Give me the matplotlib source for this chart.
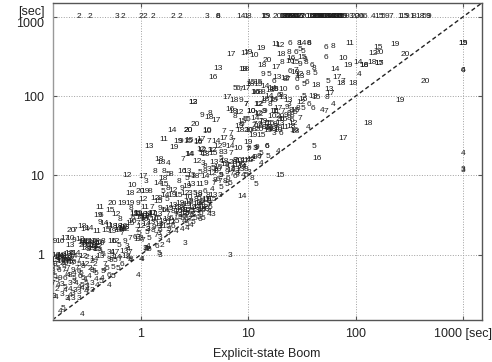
#!/usr/bin/env python3
# -*- coding: utf-8 -*-

import matplotlib
matplotlib.use("Agg")
import matplotlib.pyplot as plt
import numpy as np

plt.rcParams["font.family"] = ["Liberation Sans", "DejaVu Sans"]

# All times are log10(seconds). Each mark is drawn as its instance number.
LOW_X = [
    -.38, -.27, -.29, -.18, -.10, -.03, -.40, -.37, -.23, -.20,
    -.38, -.34, -.30, -.26, -.21, -.18, -.15, -.10, -.06, -.03,
    0, .04, .07, -.03, -.07, .07, -.55, -.52, -.48, -.65,
    -.62, -.41, -.32, -.27, -.18, -.10, -.03, 0, -.82, -.75,
    -.71, -.66, -.62, -.66, -.57, -.54, -.51, -.46, -.43, -.38,
    -.35, -.27, -.24, -.20, -.15, -.54, -.49, -.44, -.52, -.48,
    -.41, -.38, -.30, -.27, -.13, -.12, -.10, .04, .07, .05,
    -.35, -.27, -.24, -.79, -.75, -.72, -.69, -.66, -.63, -.60,
    -.80, -.77, -.74, -.70, -.67, -.64, -.58, -.54, -.50, -.63,
    -.58, -.54, -.46, -.43, -.48, -.44, -.82, -.77, -.82, -.72,
    -.68, -.63, -.58, -.80, -.75, -.71, -.66, -.62, -.57, -.52,
    -.62, -.82, -.77, -.71, -.66, -.60, -.55, -.51, -.46, -.41,
    -.37, -.35, -.30, -.26, -.21, -.30, -.78, -.71, -.63, -.61,
    -.46, -.51, -.55, -.81, -.79, -.69, -.68, -.63, -.58, -.73,
    -.75, -.55, -.03, 0, .01, -.09, -.10, .83, .05, .08,
    .15, .20, .18, .17, .41, .25, -.55, -.52, -.49, -.46,
    -.43, -.40, -.49, -.46, -.43, -.40, -.21, -.18, -.15, -.20,
    -.17, -.06, -.03, -.01, .04, .02, .07, -.75, -.72, -.69,
    -.74, -.67, -.77, -.71,
]
LOW_Y = [
    .60, .64, .56, .65, .65, .65, .49, .49, .50, .44,
    .40, .39, .37, .35, .33, .33, .32, .39, .50, .50,
    .48, .48, .48, .39, .46, .31, .36, .32, .33, .30,
    .30, .29, .30, .29, .27, .20, .19, .20, .17, .16,
    .20, .20, .18, .12, .19, .16, .17, .16, .17, .14,
    .16, .17, .16, .12, .16, .12, .12, .10, .08, .07,
    .06, .04, .03, .03, .10, .06, .02, .08, .10, .06,
    0, -.03, -.07, -.01, -.03, -.03, -.05, -.06, -.03, .01,
    -.07, -.07, -.09, -.08, .01, .01, -.06, -.03, -.04, -.11,
    -.13, -.15, -.09, -.13, -.17, -.22, -.15, -.17, -.22, -.20,
    -.17, -.20, -.22, -.28, -.30, -.30, -.26, -.30, -.28, -.32,
    -.24, -.37, -.39, -.41, -.37, -.37, -.39, -.37, -.37, -.39,
    -.34, -.22, -.26, -.28, -.18, -.39, -.44, -.46, -.49, -.45,
    -.45, -.47, -.43, -.53, -.54, -.55, -.57, -.56, -.55, -.68,
    -.72, -.76, -.27, -.06, -.06, -.06, -.08, -.01, .08, .06,
    .10, .12, -.01, .01, .14, .17, .15, .14, .15, .12,
    .14, .15, .06, .08, .06, .10, .35, .32, .34, .30,
    .36, .52, .52, .47, .46, .51, .51, -.05, -.07, 0,
    -.01, -.09, -.04, -.11,
]
LOW_N = [
    11, 20, 15, 19, 19, 9, 19, 6, 12, 8,
    9, 14, 11, 18, 13, 14, 12, 15, 15, 11,
    8, 12, 14, 7, 6, 3, 18, 14, 14, 20,
    7, 11, 15, 19, 7, 7, 12, 3, 19, 16,
    17, 10, 9, 13, 12, 18, 15, 14, 17, 10,
    8, 16, 12, 5, 9, 20, 6, 13, 18, 7,
    15, 9, 3, 4, 3, 4, 7, 3, 4, 8,
    5, 3, 5, 18, 16, 11, 13, 12, 14, 14,
    15, 9, 17, 19, 18, 5, 7, 12, 2, 7,
    5, 8, 2, 2, 2, 5, 6, 5, 8, 7,
    7, 9, 6, 5, 9, 6, 8, 5, 6, 4,
    4, 7, 4, 5, 3, 4, 5, 5, 3, 4,
    5, 5, 6, 5, 5, 4, 2, 4, 3, 3,
    3, 4, 4, 3, 4, 3, 4, 3, 3, 5,
    4, 4, 4, 4, 4, 8, 4, 3, 3, 5,
    6, 2, 3, 5, 3, 4, 14, 18, 13, 19,
    15, 16, 9, 19, 8, 12, 18, 14, 13, 19,
    16, 12, 19, 15, 14, 18, 9, 13, 14, 19,
    18, 15, 16, 20,
]

MID_X = [
    .21, .08, .35, .44, .53, .56, .63, .31, .44, .29,
    .56, .64, .60, .17, .19, .25, .39, .45, .52, .58,
    .63, -.13, .02, .05, .13, .21, .25, .28, .38, .43,
    .47, .55, .60, .21, .16, .22, .35, .43, .50, .60,
    -.08, -.01, .04, .08, -.10, .21, .25, .30, .38, .43,
    .47, .55, .61, .18, .22, .29, .35, .41, .46, .50,
    .55, .60, .13, .16, .24, .02, -.09, .04, .10, .18,
    .30, .36, .43, .47, .52, .57, .63, .35, .39, .44,
    .49, .53, .58, .21, .07, .11, .16, .25, .33, .36,
    .41, .46, .50, .58, .64, .54, .62, .64, .67, .54,
    .48, .43, .42, .33, .36, .28, .17, .07, -.03, .25,
    .17, .25, .47, .38, .33, .43, .18, .62, .54, .74,
    .67, .72, .84, .97, .95, .80, .87, .93, .98, 1.09,
    1.15, .49, .49, .57, .64, .63, .70, .83, .86, .91,
    1.03, 1.09, 1.15, 1.26, .88, .94, .97, 1.00, .94, 1.06,
    1.11, 1.20, 1.25, .91, .92, 1.00, 1.05, 1.19, 1.22, 1.28,
    .51, .44, .62, .62, .77, .84, 1.04, 1.12, .84, .86,
    .37, .45, .53, .75, .78, .70, 1.00, .72, .77, .83,
    .91, 1.00, 1.06, 1.08, 1.17, .57, .66, .58, .67, .75,
    .78, .46, .84, .75, .75, .88, .91, .95, 1.00, 1.03,
    1.06, 1.11, .81, .86, .94, .60, .67, .70, .75, .80,
    .85, .90, .95, .72, .78, .88, .92, .98, .68, .66,
    .75, .80, 1.88, 2.12, 1.61, 1.64, 1.30, 1.03, 1.07, 3.00,
    3.00, 3.00, 1.17, 1.28, 1.56, 1.43, 1.44, 1.30, 1.24, 1.28,
    1.19, 1.15, 1.10, 1.05, 1.01, 1.18, 1.12, 1.30, 1.41, 1.18,
    1.12, 1.07, 1.01, 1.03, 1.05, .98, 1.10, 1.12, 1.01, .98,
    .94,
]
MID_Y = [
    1.45, 1.36, 1.43, 1.43, 1.42, 1.45, 1.43, 1.35, 1.56, 1.57,
    1.33, 1.32, 1.26, 1.20, 1.16, 1.15, 1.20, 1.26, 1.17, 1.15,
    1.07, 1.00, .98, .92, 1.05, 1.05, 1.01, 1.01, 1.05, 1.05,
    1.00, 1.03, 1.05, .96, .90, .88, .92, .96, .98, .98,
    .87, .79, .79, .79, .77, .79, .83, .81, .83, .86,
    .88, .88, .90, .71, .75, .75, .75, .77, .77, .77,
    .77, .79, .71, .67, .69, .69, .58, .60, .60, .58,
    .62, .65, .63, .67, .63, .67, .67, .54, .56, .56,
    .54, .56, .56, .56, .50, .52, .50, .50, .48, .49,
    .48, .49, .46, .46, .50, .64, .57, .54, .51, .47,
    .50, .52, .46, .50, .47, .46, .35, .31, .22, .35,
    .27, .27, .37, .31, .29, .33, .21, .69, .71, .75,
    2.23, 2.35, 2.53, 2.54, 2.34, 1.98, 1.94, 1.94, 1.90, 1.90,
    1.93, 1.92, 1.92, 1.75, 1.78, 1.73, 1.69, 1.83, 1.80, 1.79,
    1.80, 1.78, 1.80, 1.80, 1.74, 1.68, 1.71, 1.70, 1.64, 1.64,
    1.64, 1.66, 1.64, 1.62, 1.57, 1.56, 1.58, 1.59, 1.58, 1.59,
    1.64, 1.56, 1.56, 1.55, 1.55, 1.53, 1.50, 1.50, 1.47, 1.43,
    1.43, 1.44, 1.43, 1.47, 1.46, 1.43, 1.41, 1.37, 1.38, 1.37,
    1.34, 1.33, 1.34, 1.35, 1.36, 1.32, 1.32, 1.27, 1.27, 1.29,
    1.29, 1.26, 1.28, 1.21, 1.17, 1.19, 1.19, 1.19, 1.19, 1.20,
    1.22, 1.23, 1.13, 1.09, 1.11, 1.11, 1.09, 1.05, 1.00, 1.10,
    1.02, 1.05, 1.00, .95, .92, .98, 1.08, 1.08, .90, .82,
    .85, .88, 1.47, 1.66, 1.37, 1.21, 1.00, .96, .89, 1.28,
    1.07, 1.06, 1.37, 1.30, 1.60, 1.57, 1.55, 1.53, 1.53, 1.57,
    1.60, 1.61, 1.62, 1.63, 1.57, 1.57, 1.68, 1.70, 1.69, 1.24,
    1.28, 1.34, 1.34, 1.19, 1.22, 1.18, 1.24, 1.15, 1.03, 1.00,
    .73,
]
MID_N = [
    11, 13, 19, 15, 16, 17, 7, 19, 20, 14,
    12, 3, 13, 18, 18, 4, 7, 14, 12, 3,
    3, 12, 17, 3, 8, 8, 5, 8, 16, 13,
    13, 5, 8, 18, 14, 15, 8, 5, 18, 14,
    10, 20, 19, 8, 18, 5, 8, 12, 9, 19,
    13, 11, 9, 8, 14, 19, 15, 12, 3, 5,
    8, 6, 12, 15, 5, 12, 8, 11, 7, 9,
    13, 19, 15, 8, 14, 5, 3, 16, 18, 12,
    5, 3, 6, 6, 14, 11, 13, 7, 7, 3,
    5, 7, 5, 5, 4, 3, 3, 4, 3, 5,
    7, 5, 5, 7, 5, 6, 3, 3, 3, 5,
    3, 3, 4, 4, 4, 4, 3, 3, 5, 3,
    16, 13, 17, 17, 18, 17, 18, 9, 7, 12,
    8, 13, 12, 9, 8, 18, 17, 16, 18, 12,
    10, 12, 9, 11, 8, 15, 5, 5, 6, 7,
    9, 15, 8, 19, 18, 20, 8, 10, 18, 10,
    20, 20, 10, 10, 7, 7, 19, 15, 3, 7,
    9, 15, 16, 1, 7, 14, 19, 12, 9, 14,
    10, 7, 3, 9, 6, 12, 12, 13, 15, 8,
    3, 14, 7, 5, 4, 8, 20, 1, 15, 12,
    9, 7, 7, 8, 14, 8, 5, 8, 5, 9,
    7, 7, 4, 6, 8, 6, 13, 8, 7, 4,
    5, 5, 17, 18, 5, 16, 15, 8, 5, 4,
    3, 3, 6, 4, 4, 16, 18, 6, 3, 10,
    20, 8, 16, 7, 10, 19, 7, 20, 6, 5,
    5, 9, 9, 7, 4, 7, 8, 4, 3, 5,
    14,
]

HIGH_X = [
    1.26, 1.30, 1.39, 1.47, 1.50, 1.57, 1.57, 1.72, 1.79, 1.95,
    1.00, 1.05, 1.12, 1.31, 1.38, 1.44, 1.48, 1.51, 1.40, 1.50,
    1.72, 1.88, 1.18, 1.13, 1.26, 1.31, 1.39, 1.44, 1.48, 1.53,
    1.54, 1.59, 1.61, 1.93, 1.81, 2.03, 1.14, 1.19, .97, 1.27,
    1.39, 1.44, 1.47, 1.48, 1.56, 1.62, 1.34, 1.37, 1.45, 1.02,
    1.09, .90, .93, .88, .98, 1.06, 1.11, 1.19, 1.23, 1.20,
    3.00, 3.00, 3.00, 3.00, 2.65, 2.41, 2.46, 2.37, 2.21, 2.16,
    2.22, 2.15, 2.22, 2.22, 2.02, 2.08, 2.08, 1.83, 1.88, 1.86,
    1.74, 1.98, 1.75, 1.76, 1.73, 1.79, 1.72, 1.69, 1.60, 1.57,
    1.60, 1.63, 1.52, 1.51, 1.49, 1.51, 1.46, 1.44, 1.40, 1.24,
    1.32, 1.16, 1.10, 1.03, .98, 1.10, 1.16, 1.24, 1.32, 1.37,
    1.38, 1.07, 1.14, 1.22, 1.24, 1.26, 1.29, 1.30, 1.32, 1.45,
    1.52, 1.55, 1.63, 1.09, 1.03, 1.35, 1.38, 1.41, 1.44, 1.30,
]
HIGH_Y = [
    2.65, 2.64, 2.66, 2.67, 2.67, 2.66, 2.66, 2.62, 2.63, 2.66,
    2.55, 2.51, 2.60, 2.53, 2.55, 2.55, 2.59, 2.56, 2.48, 2.49,
    2.49, 2.47, 2.45, 2.39, 2.36, 2.43, 2.44, 2.42, 2.40, 2.46,
    2.42, 2.39, 2.35, 2.39, 2.34, 2.27, 2.27, 2.27, 2.34, 2.24,
    2.31, 2.33, 2.27, 2.25, 2.28, 2.29, 2.21, 2.21, 2.21, 2.15,
    2.15, 2.10, 2.08, 2.10, 2.10, 2.05, 2.05, 1.99, 1.95, 2.07,
    2.66, 2.67, 2.33, 2.33, 2.18, 1.95, 2.53, 2.65, 2.62, 2.54,
    2.55, 2.43, 2.41, 2.41, 2.42, 2.39, 2.39, 2.23, 2.19, 2.16,
    2.18, 2.16, 2.09, 2.03, 1.98, 1.89, 1.81, 1.82, 1.85, 1.89,
    2.00, 1.98, 2.00, 1.96, 1.92, 1.85, 1.85, 1.82, 1.82, 1.81,
    1.80, 1.80, 1.77, 1.80, 1.89, 1.90, 1.96, 1.96, 1.98, 1.95,
    1.90, 2.04, 2.05, 2.10, 2.09, 2.08, 2.01, 2.01, 2.08, 2.10,
    2.15, 2.17, 2.14, 2.17, 2.17, 1.76, 1.78, 1.75, 1.79, 1.74,
]
HIGH_N = [
    11, 12, 6, 8, 14, 8, 6, 6, 8, 11,
    19, 10, 19, 18, 8, 6, 5, 5, 16, 15,
    6, 10, 20, 18, 17, 8, 10, 15, 9, 9,
    8, 6, 8, 19, 14, 4, 9, 5, 18, 13,
    6, 7, 12, 13, 8, 5, 8, 7, 6, 18,
    15, 6, 7, 5, 17, 16, 8, 14, 15, 18,
    19, 15, 4, 6, 20, 19, 20, 19, 15, 12,
    20, 18, 17, 15, 14, 16, 18, 17, 7, 18,
    5, 18, 13, 17, 8, 4, 7, 4, 6, 6,
    13, 15, 5, 16, 12, 5, 8, 15, 8, 11,
    7, 9, 12, 10, 7, 12, 18, 14, 13, 13,
    3, 16, 8, 14, 15, 8, 6, 8, 10, 6,
    5, 6, 18, 15, 15, 9, 8, 8, 5, 20,
]

# Tightly packed clumps along the diagonal band
BAND_X = [
    .36, .39, .42, .45, .48, .51, .54, .57, .60, .63,
    .38, .41, .44, .47, .50, .53, .56, .59, .62, .66,
    .40, .43, .46, .49, .52, .55, .58, .61, .64, .67,
    .66, .69, .72, .75, .78, .81, .84, .87, .90, .93,
    .68, .71, .74, .77, .80, .83, .86, .89, .92, .96,
    -.08, -.04, 0, .03, .06, .09, .12, .15, .18, .21,
    -.06, -.02, .02, .05, .08, .11, .14, .17, .20, .24,
    .26, .28, .30, .32, .10, .12, .22, .26, .30, .34,
    -.80, -.76, -.72, -.68, -.64, -.60, -.56, -.52, -.48, -.44,
    -.78, -.74, -.70, -.66, -.62, -.58, -.54, -.50, -.46, -.42,
    -.38, -.34, -.30, -.26, -.22, -.18, -.14, -.36, -.32, -.28,
    -.24, -.20, -.16, -.12, -.74, -.66, -.58, -.50, -.42, -.34,
    1.06, 1.14, 1.22, 1.30, 1.38, 1.10, 1.18, 1.26, 1.34, 1.42,
    1.28, 1.36, 1.20, 1.32, 1.40, 1.48, 1.16, 1.24, 1.34, 1.44,
]
BAND_Y = [
    .58, .62, .55, .66, .60, .70, .64, .57, .68, .62,
    .46, .52, .72, .48, .56, .74, .52, .60, .74, .70,
    .42, .38, .44, .40, .60, .44, .62, .70, .60, .74,
    1.02, .94, 1.10, 1.00, 1.14, .96, 1.06, 1.12, 1.00, 1.14,
    1.16, 1.08, .92, 1.18, 1.04, .90, 1.16, 1.02, 1.18, 1.10,
    .42, .30, .36, .44, .28, .40, .34, .46, .30, .42,
    .22, .26, .18, .38, .20, .30, .24, .38, .36, .44,
    .32, .40, .36, .42, .52, .44, .56, .58, .54, .60,
    -.12, -.20, -.14, -.26, -.10, -.18, -.24, -.12, -.28, -.06,
    -.33, -.38, -.24, -.44, -.34, -.42, -.30, -.40, -.20, -.32,
    -.02, -.12, -.06, -.16, -.04, -.12, -.02, -.30, -.18, -.08,
    .02, -.06, .04, -.04, -.50, -.52, -.48, -.44, -.24, -.20,
    1.72, 1.68, 1.74, 1.66, 1.72, 1.58, 1.66, 1.62, 1.60, 1.66,
    1.84, 1.86, 1.90, 1.70, 1.62, 1.72, 2.12, 2.18, 2.22, 2.30,
]
BAND_N = [
    13, 9, 15, 12, 19, 8, 14, 16, 11, 7,
    5, 18, 10, 7, 13, 19, 6, 12, 8, 15,
    4, 5, 7, 5, 14, 6, 9, 17, 5, 13,
    12, 8, 15, 9, 19, 6, 14, 11, 7, 16,
    13, 10, 7, 18, 9, 5, 20, 8, 12, 7,
    10, 7, 12, 16, 5, 13, 9, 15, 6, 19,
    6, 5, 7, 14, 5, 8, 7, 13, 11, 18,
    9, 12, 6, 15, 17, 10, 14, 19, 8, 13,
    9, 6, 8, 4, 10, 7, 5, 12, 4, 14,
    5, 3, 7, 4, 3, 4, 5, 3, 8, 4,
    13, 7, 9, 5, 14, 6, 12, 4, 5, 9,
    17, 7, 13, 8, 3, 4, 3, 4, 5, 4,
    14, 19, 10, 13, 8, 20, 15, 9, 11, 12,
    17, 9, 8, 16, 18, 7, 14, 6, 12, 10,
]

# Runs that hit the 1000 s limit on the vertical axis
LIMIT_X = [
    -.58, -.48, -.22, -.17, 0, .04, .11, .30, .36, .62,
    .72, .72, .93, .98, 1.01, 1.16, 1.17, 1.27, 1.32, 1.34,
    1.36, 1.38, 1.40, 1.42, 1.44, 1.46, 1.48, 1.50, 1.53, 1.58,
    1.60, 1.62, 1.64, 1.66, 1.68, 1.70, 1.72, 1.74, 1.76, 1.78,
    1.80, 1.82, 1.84, 1.86, 1.88, 1.92, 1.96, 2.00, 2.03, 2.06,
    2.09, 2.16, 2.22, 2.26, 2.29, 2.33, 2.41, 2.45, 2.48, 2.52,
    2.54, 2.60, 2.64, 2.67, 2.68, 1.33, 1.35, 1.37, 1.39, 1.41,
    1.43, 1.45, 1.47, 1.59, 1.61, 1.63, 1.65, 1.67, 1.69, 1.71,
    1.73, 1.75, 1.77, 1.79, 1.81, 1.83, 1.85, 1.87,
]
LIMIT_N = [
    2, 2, 3, 2, 2, 2, 2, 2, 2, 3,
    8, 6, 14, 1, 8, 15, 19, 20, 18, 16,
    12, 15, 19, 8, 14, 17, 13, 7, 20, 16,
    11, 19, 15, 18, 10, 13, 17, 9, 14, 12,
    16, 18, 20, 15, 19, 9, 3, 20, 20, 6,
    6, 4, 15, 5, 9, 7, 1, 15, 9, 1,
    8, 18, 5, 9, 9, 17, 13, 19, 8, 14,
    20, 12, 16, 18, 9, 15, 13, 19, 10, 17,
    14, 20, 16, 8, 18, 12, 19, 15,
]

X_TICKS = [1, 10, 100, 1000]
X_TICK_LABELS = ["1", "10", "100", "1000 [sec]"]
Y_TICKS = [1, 10, 100, 1000]
Y_TICK_LABELS = ["1", "10", "100", "[sec]\n1000"]
X_RANGE = (0.15, 1500)
Y_RANGE = (0.15, 1500)
X_LABEL = "Explicit-state Boom"

FONT_TICK = 9
FONT_MARK = 6
MARK_COLOR = "#1c1c1c"


def main():
    groups = [(LOW_X, LOW_Y, LOW_N), (MID_X, MID_Y, MID_N),
              (HIGH_X, HIGH_Y, HIGH_N), (BAND_X, BAND_Y, BAND_N)]
    for xs, ys, ns in groups:
        assert len(xs) == len(ys) == len(ns), (len(xs), len(ys), len(ns))
    assert len(LIMIT_X) == len(LIMIT_N)

    log_x = np.array(LOW_X + MID_X + HIGH_X + BAND_X + LIMIT_X)
    log_y = np.array(LOW_Y + MID_Y + HIGH_Y + BAND_Y + [3.0] * len(LIMIT_X))
    numbers = LOW_N + MID_N + HIGH_N + BAND_N + LIMIT_N

    fig = plt.figure(figsize=(4.92, 3.62), dpi=100)
    ax = fig.add_axes([52.5 / 492, 1 - 319.8 / 362, 429.3 / 492, 316.8 / 362])
    ax.set_xscale("log")
    ax.set_yscale("log")
    ax.set_xlim(*X_RANGE)
    ax.set_ylim(*Y_RANGE)

    ax.grid(True, which="major", color="#a0a0a0", linestyle=":", linewidth=0.7)
    ax.set_axisbelow(True)
    ax.plot(X_RANGE, Y_RANGE, color="#222222", linestyle=(0, (3, 2)), linewidth=1.0, zorder=2)

    for x, y, n in zip(10.0 ** log_x, 10.0 ** log_y, numbers):
        ax.text(x, y, str(n), fontsize=FONT_MARK, color=MARK_COLOR,
                ha="center", va="center", zorder=3, clip_on=True)

    ax.set_xticks(X_TICKS, X_TICK_LABELS)
    ax.set_yticks(Y_TICKS, Y_TICK_LABELS, linespacing=0.95)
    ax.minorticks_off()
    ax.tick_params(which="major", direction="in", length=3, width=0.8, color="#555555",
                   top=True, right=True, labelsize=FONT_TICK, pad=6, labelcolor="#222222")
    ax.set_xlabel(X_LABEL, fontsize=FONT_TICK, color="#222222", labelpad=6)

    for side, spine in ax.spines.items():
        spine.set_linewidth(1.0)
        spine.set_color("#999999" if side == "left" else "#555555")

    fig.savefig("out.png", dpi=100)
    plt.close(fig)


if __name__ == "__main__":
    main()
